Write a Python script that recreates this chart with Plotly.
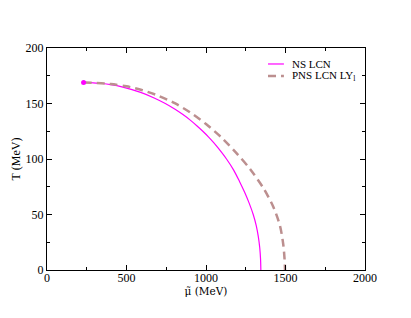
import plotly.graph_objects as go

ns_mu = [230, 351, 401, 471, 589, 674, 744, 803, 855, 901, 942, 980, 1015, 1047, 1076, 1129, 1174, 1210, 1243, 1272, 1297, 1316, 1329, 1338, 1343, 1345]
ns_T = [169, 168, 167, 165, 160, 155, 150, 145, 140, 135, 130, 125, 120, 115, 110, 100, 90, 80, 70, 60, 50, 40, 30, 20, 10, 0]

pns_mu = [230, 400, 500, 600, 700, 800, 900, 1000, 1100, 1200, 1277, 1360, 1423, 1465, 1486, 1494, 1497]
pns_T = [169, 167.5, 165.5, 162, 157, 150.5, 142, 131.5, 119, 104, 91, 74, 57, 40, 23, 10, 0]

x_ticks = [0, 500, 1000, 1500, 2000]
y_ticks = [0, 50, 100, 150, 200]

legend_names = ["NS LCN", "PNS LCN LY<sub>l</sub>"]
ns_color = "#ff00ff"
pns_color = "#bc8f8f"
pns_dash = "8px,5px"

serif = "Liberation Serif, Times New Roman, serif"

fig = go.Figure()
fig.add_trace(go.Scatter(x=ns_mu, y=ns_T, mode="lines", name=legend_names[0], showlegend=False,
                         line=dict(color=ns_color, width=1.2, shape="spline", smoothing=0.8)))
fig.add_trace(go.Scatter(x=pns_mu, y=pns_T, mode="lines", name=legend_names[1], showlegend=False,
                         line=dict(color=pns_color, width=2.5, dash=pns_dash, shape="spline", smoothing=0.8)))
fig.add_trace(go.Scatter(x=ns_mu[:1], y=ns_T[:1], mode="markers", showlegend=False,
                         marker=dict(color=ns_color, size=5)))

axis_common = dict(showgrid=False, zeroline=False, showline=True, linecolor="black", linewidth=1,
                   mirror="ticks", ticks="inside", ticklen=5, tickcolor="black", automargin=False,
                   tickfont=dict(family=serif, size=12, color="black"),
                   minor=dict(ticks="inside", ticklen=3, tickcolor="black"))

fig.update_xaxes(range=[0, 2000], tickvals=x_ticks, minor_dtick=250, ticklabelstandoff=-3,
                 title=dict(text="μ\u0303 (MeV)", font=dict(family="DejaVu Serif, serif", size=10.5, color="black"), standoff=0),
                 **axis_common)
fig.update_yaxes(range=[0, 200], tickvals=y_ticks, minor_dtick=25,
                 title=dict(text="T (MeV)", font=dict(family=serif, size=12, color="black"), standoff=2),
                 **axis_common)

# manual compact legend (paper coordinates)
leg_items = [(legend_names[0], ns_color, 1.2, "solid", 0.928),
             (legend_names[1], pns_color, 2.5, pns_dash, 0.874)]
for name, col, w, dsh, yy in leg_items:
    fig.add_shape(type="line", xref="paper", yref="paper", x0=0.695, x1=0.745, y0=yy, y1=yy,
                  line=dict(color=col, width=w, dash=dsh))
    fig.add_annotation(xref="paper", yref="paper", x=0.764, y=yy, xanchor="left", yanchor="middle",
                       text=name, showarrow=False, font=dict(family=serif, size=11, color="black"))

fig.update_layout(
    width=411, height=318,
    margin=dict(l=47, r=46, t=48, b=48, autoexpand=False),
    plot_bgcolor="white", paper_bgcolor="white",
    showlegend=False,
)

fig.write_html("out.html", config={"displayModeBar": False})
with open("out.html", "r", encoding="utf-8") as f:
    html = f.read()
html = html.replace("<body>", '<body style="margin:0;padding:0;">', 1)
with open("out.html", "w", encoding="utf-8") as f:
    f.write(html)
